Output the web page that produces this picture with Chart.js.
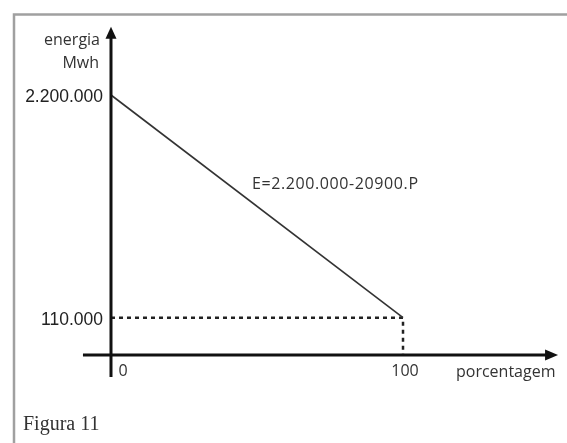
<!DOCTYPE html>
<html lang="pt-BR">
<head>
<meta charset="utf-8">
<title>Figura 11</title>
<script src="https://cdn.jsdelivr.net/npm/chart.js@4/dist/chart.umd.min.js"></script>
<style>
    html, body { margin: 0; padding: 0; background: #fff; }
    #grafico-container { position: relative; width: 567px; height: 443px; }
</style>
</head>
<body>
<div id="grafico-container">
    <canvas id="grafico"></canvas>
</div>
<script>
// Dados da reta E = 2.200.000 - 20900.P
const porcentagem = [0, 100];
const energia = [2200000, 110000];
const rotulosY = ['2.200.000', '110.000'];
const rotulosX = ['0', '100'];
const equacao = 'E=2.200.000-20900.P';

// Nível onde o eixo horizontal cruza (desenho esquemático, abaixo do zero)
const nivelEixoX = -240000;

const fonteTexto = '"Open Sans", "Noto Sans", sans-serif';
const fonteNumeros = '"Liberation Sans", Arial, sans-serif';

// Plugin que desenha moldura, eixos com setas e os textos
const desenhoEixos = {
    id: 'desenhoEixos',
    beforeDraw(chart) {
        const ctx = chart.ctx;
        ctx.save();
        // Moldura cinza (só topo e lado esquerdo aparecem)
        ctx.strokeStyle = '#a0a0a0';
        ctx.lineWidth = 2.5;
        ctx.beginPath();
        ctx.moveTo(14, 443);
        ctx.lineTo(14, 14.5);
        ctx.lineTo(567, 14.5);
        ctx.stroke();
        ctx.restore();
    },
    afterDatasetsDraw(chart) {
        const ctx = chart.ctx;
        const x = chart.scales.x;
        const y = chart.scales.y;
        const x0 = x.getPixelForValue(0);
        const yEixo = y.getPixelForValue(nivelEixoX);

        ctx.save();
        ctx.strokeStyle = '#111';
        ctx.fillStyle = '#111';
        ctx.lineWidth = 3;

        // Eixo vertical
        ctx.beginPath();
        ctx.moveTo(x0, y.getPixelForValue(-446000));
        ctx.lineTo(x0, y.getPixelForValue(2740000));
        ctx.stroke();
        const topo = y.getPixelForValue(2840000);
        ctx.beginPath();
        ctx.moveTo(x0, topo);
        ctx.lineTo(x0 - 5.5, topo + 12);
        ctx.lineTo(x0 + 5.5, topo + 12);
        ctx.closePath();
        ctx.fill();

        // Eixo horizontal
        ctx.beginPath();
        ctx.moveTo(x.getPixelForValue(-9.6), yEixo);
        ctx.lineTo(x.getPixelForValue(149), yEixo);
        ctx.stroke();
        const ponta = x.getPixelForValue(153.1);
        ctx.beginPath();
        ctx.moveTo(ponta, yEixo);
        ctx.lineTo(ponta - 13, yEixo - 5.5);
        ctx.lineTo(ponta - 13, yEixo + 5.5);
        ctx.closePath();
        ctx.fill();

        // Rótulos do eixo Y
        ctx.fillStyle = '#222';
        ctx.font = '17.5px ' + fonteNumeros;
        ctx.textAlign = 'right';
        ctx.textBaseline = 'middle';
        energia.forEach((v, i) => {
            ctx.fillText(rotulosY[i], x0 - 8, y.getPixelForValue(v) + 2);
        });

        // Título do eixo Y
        ctx.fillStyle = '#333';
        ctx.font = '16px ' + fonteTexto;
        ctx.textBaseline = 'alphabetic';
        ctx.fillText('energia', x0 - 11, 45);
        ctx.fillText('Mwh', x0 - 12, 68);

        // Rótulos do eixo X
        ctx.textAlign = 'center';
        porcentagem.forEach((v, i) => {
            const px = x.getPixelForValue(v);
            ctx.fillText(rotulosX[i], i === 0 ? px + 12 : px + 2, yEixo + 21);
        });
        ctx.textAlign = 'left';
        ctx.fillText('porcentagem', 456, yEixo + 22);

        // Equação da reta
        ctx.letterSpacing = '0.6px';
        ctx.fillText(equacao, 252, 189);
        ctx.letterSpacing = '0px';

        // Legenda da figura
        ctx.fillStyle = '#333';
        ctx.font = '20px "Liberation Serif", "Times New Roman", serif';
        ctx.fillText('Figura 11', 23, 430);
        ctx.restore();
    }
};

const ctx = document.getElementById('grafico').getContext('2d');
new Chart(ctx, {
    type: 'scatter',
    data: {
        datasets: [
            {
                label: 'E',
                data: porcentagem.map((p, i) => ({ x: p, y: energia[i] })),
                showLine: true,
                borderColor: '#333',
                borderWidth: 1.6,
                pointRadius: 0
            },
            {
                label: 'guia',
                data: [
                    { x: porcentagem[0], y: energia[1] },
                    { x: porcentagem[1], y: energia[1] },
                    { x: porcentagem[1], y: nivelEixoX }
                ],
                showLine: true,
                borderColor: '#222',
                borderWidth: 2.5,
                borderDash: [4, 4],
                pointRadius: 0
            }
        ]
    },
    options: {
        responsive: true,
        maintainAspectRatio: false,
        animation: false,
        layout: { padding: 0 },
        plugins: {
            legend: { display: false },
            tooltip: { enabled: false }
        },
        scales: {
            x: { type: 'linear', display: false, min: -38.01, max: 156.16 },
            y: { type: 'linear', display: false, min: -1065910, max: 3091556 }
        }
    },
    plugins: [desenhoEixos]
});
</script>
</body>
</html>
